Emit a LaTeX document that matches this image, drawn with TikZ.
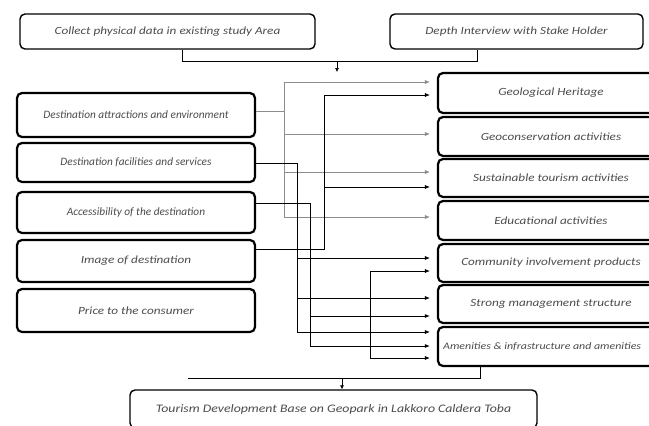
\documentclass[tikz,border=0pt]{standalone}
\usepackage{fontspec}
\setmainfont{Carlito}
\newfontfamily\widefont{Carlito}[FakeStretch=1.2]
\usetikzlibrary{arrows.meta}
\begin{document}
\begin{tikzpicture}[x=1pt,y=-1pt,
  box/.style={draw=black,line width=1.8pt,rounded corners=5pt,inner sep=0pt,
    font=\widefont\itshape\fontsize{11}{13}\selectfont,text=black!70,fill=white},
  narrowtext/.style={font=\itshape\fontsize{11.3}{13}\selectfont},
  topbox/.style={box,line width=1.4pt},
  rbox/.style={box,line width=2.2pt,minimum width=226pt},
  lbox/.style={box,line width=2.2pt,minimum width=238pt},
  ln/.style={line width=0.6pt,draw=black},
  lg/.style={line width=0.5pt,draw=black!45},
  lk/.style={line width=0.9pt,draw=black},
  tipA/.style={-{Latex[length=5pt,width=4pt]},shorten >=7pt},
]
\useasboundingbox (0,0) rectangle (649,426);
% top boxes
\node[topbox,minimum width=295pt,minimum height=35pt] (t1) at (167.5,31.5) {Collect physical data in existing study Area};
\node[topbox,minimum width=253pt,minimum height=35pt] (t2) at (516.5,31.5) {Depth Interview with Stake Holder};
% left boxes
\node[lbox,narrowtext,minimum height=44pt] (L1) at (136,115) {Destination attractions and environment};
\node[lbox,narrowtext,minimum height=39pt] (L2) at (136,162.5) {Destination facilities and services};
\node[lbox,narrowtext,minimum height=41pt] (L3) at (136,212.5) {Accessibility of the destination};
\node[lbox,minimum height=42pt] (L4) at (136,261) {Image of destination};
\node[lbox,minimum height=43pt] (L5) at (136,310.5) {Price to the consumer};
% right boxes
\node[rbox,minimum height=40pt] (R1) at (551,93) {Geological Heritage};
\node[rbox,minimum height=39pt] (R2) at (551,136.5) {Geoconservation activities};
\node[rbox,minimum height=38pt] (R3) at (551,178) {Sustainable tourism activities};
\node[rbox,minimum height=39pt] (R4) at (551,220.5) {Educational activities};
\node[rbox,minimum height=38pt] (R5) at (551,263) {Community involvement products};
\node[rbox,minimum height=38pt] (R6) at (551,304) {Strong management structure};
\node[rbox,minimum height=39pt] (R7) at (551,346.5) {};
\node[anchor=west,inner sep=0pt,font=\widefont\itshape\fontsize{9.9}{12}\selectfont,text=black!70] (R7t) at (443,346.5) {Amenities \& infrastructure and amenities};
% bottom box
\node[topbox,minimum width=407pt,minimum height=38pt,font=\widefont\itshape\fontsize{11.5}{13}\selectfont] (B) at (333.5,409) {Tourism Development Base on Geopark in Lakkoro Caldera Toba};
% top connectors
\coordinate (j0) at (182,61);
\coordinate (j1) at (477,61);
\coordinate (a0) at (337,61);
\draw[ln] (t1.south -| j0) -- (j0) -- (j1) -- (t2.south -| j1);
\draw[ln,-{Latex[length=4pt,width=4pt]}] (a0) -- (337,72);
% group from L1 (grey)
\coordinate (v1) at (284,111);
\draw[lg] ([yshift=4pt]L1.east) -- (v1);
\draw[lg] (284,82) -- (284,217);
\draw[lg,tipA] (284,82) -- (R1.west |- 0,82);
\draw[lg,tipA] (284,134) -- (R2.west |- 0,134);
\draw[lg,tipA] (284,172) -- (R3.west |- 0,172);
\draw[lg,tipA] (284,217) -- (R4.west |- 0,217);
% group from L2
\coordinate (v2) at (297,163);
\draw[ln] ([yshift=-0.5pt]L2.east) -- (v2) -- (297,258);
\draw[ln,tipA] (297,258) -- (R5.west |- 0,258);
\draw[ln] (297,258) -- (297,332);
\draw[ln,tipA] (297,298) -- (R6.west |- 0,298);
\draw[ln,tipA] (297,332) -- (R7.west |- 0,332);
% group from L3
\coordinate (v3) at (310,203);
\draw[lk] ([yshift=9.5pt]L3.east) -- (v3) -- (310,346);
\draw[lk,tipA] (310,316) -- (R6.west |- 0,316);
\draw[lk,tipA] (310,346) -- (R7.west |- 0,346);
% group from L4
\coordinate (v4) at (324,249);
\draw[ln] ([yshift=12pt]L4.east) -- (v4) -- (324,95);
\draw[ln,tipA] (324,95) -- (R1.west |- 0,95);
\draw[ln,tipA] (324,187) -- (R3.west |- 0,187);
% free group
\coordinate (v5) at (370,271);
\draw[ln] (v5) -- (370,358);
\draw[ln,tipA] (v5) -- (R5.west |- v5);
\draw[ln,tipA] (370,358) -- (R7.west |- 0,358);
% bottom connectors
\coordinate (b0) at (188,378);
\coordinate (b1) at (480,378);
\draw[ln] (b0) -- (b1) -- (R7.south -| b1);
\draw[ln,-{Latex[length=4pt,width=4pt]}] (342,378) -- (B.north -| 342,0);
\end{tikzpicture}
\end{document}
